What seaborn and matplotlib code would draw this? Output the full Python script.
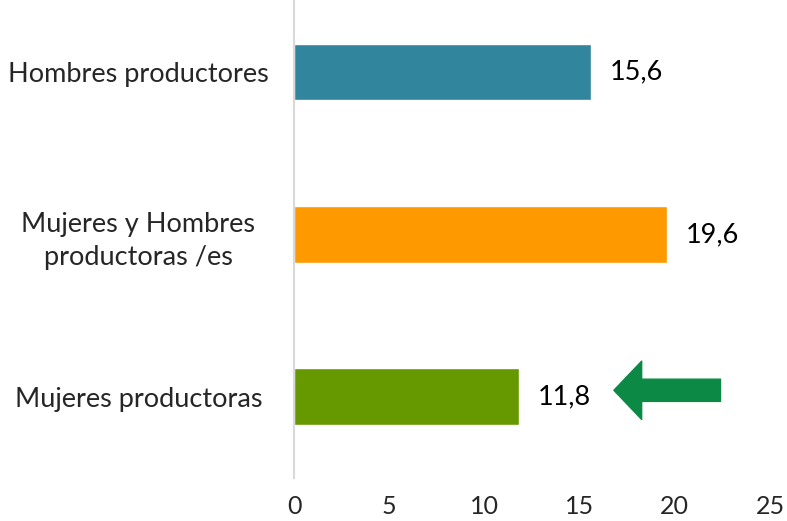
import numpy as np
import pandas as pd
import matplotlib
matplotlib.use("Agg")
import matplotlib.pyplot as plt
import seaborn as sns

categorias = ["Hombres productores", "Mujeres y Hombres\nproductoras /es", "Mujeres productoras"]
valores = [15.6, 19.6, 11.8]
colores = ["#31859C", "#FF9900", "#669900"]
xticks = [0, 5, 10, 15, 20, 25]

sns.set_theme(style="white")
plt.rcParams['font.family'] = ['Lato', 'DejaVu Sans']

df = pd.DataFrame({"cat": categorias, "val": valores})

fig = plt.figure(figsize=(7.87, 5.21), dpi=100)
ax = fig.add_axes([294/787, 43/521, 476/787, 478/521])
sns.barplot(data=df, x="val", y="cat", hue="cat", palette=colores,
            width=0.35, legend=False, ax=ax, saturation=1)

ax.set_xlim(0, 25)
ax.set_ylim(2.5, -0.443)
ax.set_xticks(xticks)
ax.set_xticklabels([str(t) for t in xticks], fontsize=18)
ax.tick_params(axis='x', length=0, pad=12)
ax.tick_params(axis='y', length=0, pad=112, labelsize=19.5)
for lab in ax.get_yticklabels():
    lab.set_horizontalalignment('center')
    lab.set_linespacing(1.4)
ax.set_xlabel("")
ax.set_ylabel("")
for s in ["top", "right", "bottom"]:
    ax.spines[s].set_visible(False)
ax.spines["left"].set_color("#D9D9D9")
ax.spines["left"].set_linewidth(1.5)

for i, v in enumerate(valores):
    ax.text(v + 1.0, i, f"{v:.1f}".replace(".", ","), va="center", ha="left",
            fontsize=19.5, color="black")

# flecha verde señalando a las mujeres productoras
ax.annotate("", xy=(valores[2] + 5.0, 1.96), xytext=(valores[2] + 10.6, 1.96),
            arrowprops=dict(arrowstyle="simple,head_length=1.0,head_width=2.1,tail_width=0.8",
                            mutation_scale=20, color="#0C8A45", shrinkA=0, shrinkB=0))

fig.savefig("out.png", dpi=100)
